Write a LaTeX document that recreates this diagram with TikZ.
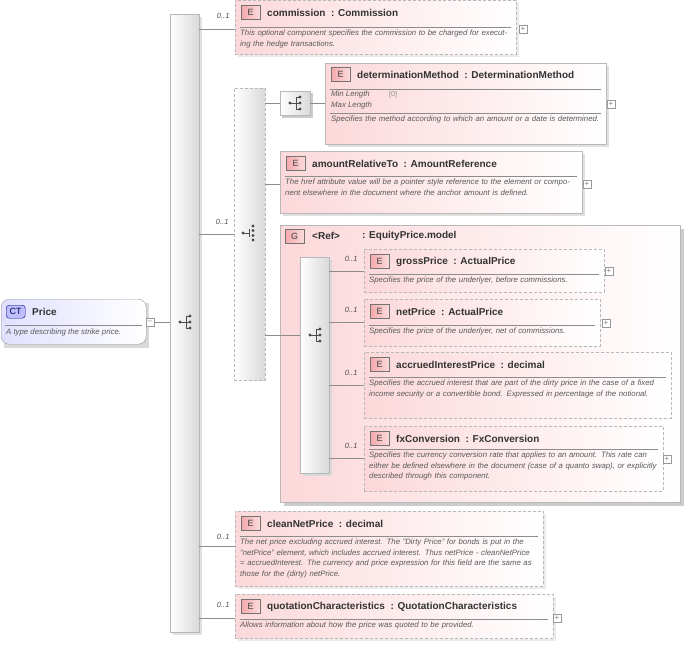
\documentclass[tikz,border=0pt]{standalone}
\usepackage{fontspec}
\setmainfont{Liberation Sans}
\begin{document}
\definecolor{epink}{HTML}{FCD8DA}
\definecolor{bord}{HTML}{B8B8B8}
\definecolor{badge}{HTML}{F4A8AA}
\tikzset{
 ebox/.style={draw=bord, left color=epink, right color=white, anchor=north west, inner sep=0pt},
 dsh/.style={dashed, dash pattern=on 3pt off 2pt},
 bar/.style={draw=bord, left color=white, right color=black!15, anchor=north west, inner sep=0pt},
 conn/.style={draw=black!45, line width=0.5pt},
 card/.style={font=\fontsize{7.5}{9}\selectfont\itshape, text=black!70, anchor=south east},
 hdr/.style={font=\fontsize{10}{12}\selectfont\bfseries, text=black!80, anchor=west, inner sep=0pt},
 dsc/.style={font=\fontsize{7.8}{10.5}\selectfont\itshape, text=black!65, anchor=north west, inner sep=0pt, align=left},
 bdg/.style={draw=black!55, left color=badge, right color=badge!40, minimum width=19pt, minimum height=14pt, inner sep=0pt, anchor=north west, font=\fontsize{9}{9}\selectfont, text=black!75},
 pl/.style={draw=black!40, fill=white, minimum size=8pt, inner sep=0pt, font=\fontsize{8}{8}\selectfont, text=black!50},
 shd/.style={fill=black!12},
}
\newcommand\seqicon[2]{%
 \fill[black!70] (#1-5,#2) circle (1.6pt);
 \draw[black!70,line width=0.8pt] (#1-5,#2)--(#1+1,#2) (#1+1,#2-6)--(#1+1,#2+6) (#1+1,#2-6)--(#1+5,#2-6) (#1+1,#2)--(#1+5,#2) (#1+1,#2+6)--(#1+5,#2+6);
 \fill[black!70] (#1+5,#2-6) circle (1.6pt) (#1+5,#2) circle (1.6pt) (#1+5,#2+6) circle (1.6pt);}
\newcommand\chcicon[2]{%
 \fill[black!70] (#1-6,#2) circle (1.6pt);
 \draw[black!70,line width=0.8pt] (#1-6,#2)--(#1,#2) (#1,#2-4)--(#1,#2+4);
 \fill[black!70] (#1+4,#2-7) circle (1.6pt) (#1+4,#2-2.5) circle (1.6pt) (#1+4,#2+2.5) circle (1.6pt) (#1+4,#2+7) circle (1.6pt);}
% #1 name #2 x #3 y #4 w #5 h #6 extra style #7 header #8 desc #9 header-line offset
\newcommand\elbox[9]{%
 \node[ebox,#6,minimum width=#4pt,minimum height=#5pt] (#1) at (#2,#3) {};
 \node[bdg] (#1b) at (#2+6,#3+5) {E};
 \node[hdr] (#1h) at (#2+32,#3+12.5) {#7};
 \draw[black!45] (#2+5,#3+#9)--(#2+#4-5,#3+#9);
 \node[dsc,text width=#4pt-10pt] (#1d) at (#2+5,#3+#9+3) {#8};}
\begin{tikzpicture}[x=1pt,y=-1pt]
\useasboundingbox (0,0) rectangle (686,645);
% Price
\fill[black!15] (4,303) rectangle (149,348);
\node[draw=black!40, rounded corners=8pt, left color=blue!12, right color=white, minimum width=145pt, minimum height=45pt, anchor=north west, inner sep=0pt] (price) at (1,299) {};
\node[draw=blue!50!black, rounded corners=3pt, fill=blue!25, minimum width=19pt, minimum height=13pt, inner sep=0pt, anchor=north west, font=\fontsize{9}{9}\selectfont, text=blue!30!black] (ct) at (6,305) {CT};
\node[hdr] (priceh) at (32,311.5) {Price};
\draw[black!45] (5,325)--(142,325);
\node[dsc] (priced) at (6,329) {A type describing the strike price.};
\node[pl] (pminus) at (150,322) {--};
% main sequence
\fill[black!12] (173,17) rectangle (202,635);
\node[bar,minimum width=29pt,minimum height=618pt] (seq) at (170,14) {};
\seqicon{185}{322}
\draw[conn] (pminus.east)--(seq.west |- pminus.east);
% commission
\fill[black!8] (238,3) rectangle (519,57);
\elbox{comm}{235}{0}{281}{54}{dsh}{commission\ \ : Commission}{This optional component specifies the commission to be charged for executing the hedge transactions.}{27}
\node[pl] (commp) at (523,29) {+};
\draw[conn] (seq.east |- 0,29)--(comm.west |- 0,29);
\node[card] at (233,22) {0..1};
% choice
\node[bar,dsh,minimum width=31pt,minimum height=292pt] (cho) at (234,88) {};
\chcicon{249}{233}
\draw[conn] (seq.east |- 0,234)--(cho.west |- 0,234);
\node[card] at (232,228) {0..1};
% determination small seq box
\fill[black!20] (282,93) rectangle (313,118);
\node[bar,minimum width=30pt,minimum height=24pt] (dseq) at (280,91) {};
\seqicon{295}{103}
\draw[conn] (cho.east |- 0,103)--(dseq.west |- 0,103);
\fill[black!12] (328,66) rectangle (609,147);
\node[ebox,minimum width=281pt,minimum height=81pt] (det) at (325,63) {};
\node[bdg] (detb) at (331,67) {E};
\node[hdr] (deth) at (357,74.5) {determinationMethod\ \ : DeterminationMethod};
\draw[black!45] (330,89)--(601,89);
\node[dsc] (detm) at (331,91) {Min Length\\Max Length};
\node[dsc,font=\fontsize{7}{10.5}\selectfont, text=black!45] (detv) at (389,91) {[0]\\[255]};
\draw[black!45] (330,113)--(601,113);
\node[dsc,text width=271pt] (detd) at (331,116) {Specifies the method according to which an amount or a date is determined.};
\node[pl] (detp) at (611,104) {+};
\draw[conn] (dseq.east)--(det.west |- dseq.east);
% amountRelativeTo
\fill[black!12] (283,154) rectangle (585,216);
\elbox{amt}{280}{151}{302}{62}{}{amountRelativeTo\ \ : AmountReference}{The href attribute value will be a pointer style reference to the element or component elsewhere in the document where the anchor amount is defined.}{25}
\node[pl] (amtp) at (587,184) {+};
\draw[conn] (cho.east |- 0,184)--(amt.west |- 0,184);
% group
\fill[black!20] (284,229) rectangle (684,506);
\node[draw=bord, left color=epink, right color=white, minimum width=400pt, minimum height=277pt, anchor=north west, inner sep=0pt] (grp) at (280,225) {};
\node[bdg] (grpb) at (285,229) {G};
\node[hdr] (grph) at (312,236) {<Ref>};
\node[hdr] (grph2) at (362,236) {: EquityPrice.model};
\fill[black!15] (303,260) rectangle (332,476);
\node[bar,minimum width=29pt,minimum height=216pt] (iseq) at (300,257) {};
\seqicon{315}{335}
\draw[conn] (cho.east |- 0,335)--(iseq.west |- 0,335);
% grossPrice
\elbox{gross}{364}{249}{240}{43}{dsh,fill=white}{grossPrice\ \ : ActualPrice}{Specifies the price of the underlyer, before commissions.}{25}
\node[pl] (grossp) at (609,271) {+};
\draw[conn] (iseq.east |- 0,271)--(gross.west |- 0,271);
\node[card] at (361,265) {0..1};
% netPrice
\elbox{net}{364}{299}{236}{47}{dsh}{netPrice\ \ : ActualPrice}{Specifies the price of the underlyer, net of commissions.}{26}
\node[pl] (netp) at (606,323) {+};
\draw[conn] (iseq.east |- 0,322)--(net.west |- 0,322);
\node[card] at (361,316) {0..1};
% accrued
\elbox{acc}{364}{352}{307}{66}{dsh}{accruedInterestPrice\ \ : decimal}{Specifies the accrued interest that are part of the dirty price in the case of a fixed income security or a convertible bond. Expressed in percentage of the notional.}{25}
\draw[conn] (iseq.east |- 0,385)--(acc.west |- 0,385);
\node[card] at (361,379) {0..1};
% fx
\elbox{fx}{364}{426}{299}{65}{dsh}{fxConversion\ \ : FxConversion}{Specifies the currency conversion rate that applies to an amount. This rate can either be defined elsewhere in the document (case of a quanto swap), or explicitly described through this component.}{23}
\node[pl] (fxp) at (667,459) {+};
\draw[conn] (iseq.east |- 0,458)--(fx.west |- 0,458);
\node[card] at (361,452) {0..1};
% cleanNetPrice
\fill[black!8] (238,514) rectangle (546,589);
\elbox{clean}{235}{511}{308}{75}{dsh}{cleanNetPrice\ \ : decimal}{The net price excluding accrued interest. The "Dirty Price" for bonds is put in the "netPrice" element, which includes accrued interest. Thus netPrice - cleanNetPrice = accruedInterest. The currency and price expression for this field are the same as those for the (dirty) netPrice.}{25}
\draw[conn] (seq.east |- 0,546)--(clean.west |- 0,546);
\node[card] at (233,543) {0..1};
% quotation
\fill[black!8] (238,597) rectangle (556,641);
\elbox{quot}{235}{594}{318}{44}{dsh}{quotationCharacteristics\ \ : QuotationCharacteristics}{Allows information about how the price was quoted to be provided.}{25}
\node[pl] (quotp) at (557,618) {+};
\draw[conn] (seq.east |- 0,618)--(quot.west |- 0,618);
\node[card] at (233,611) {0..1};
\end{tikzpicture}
\end{document}
